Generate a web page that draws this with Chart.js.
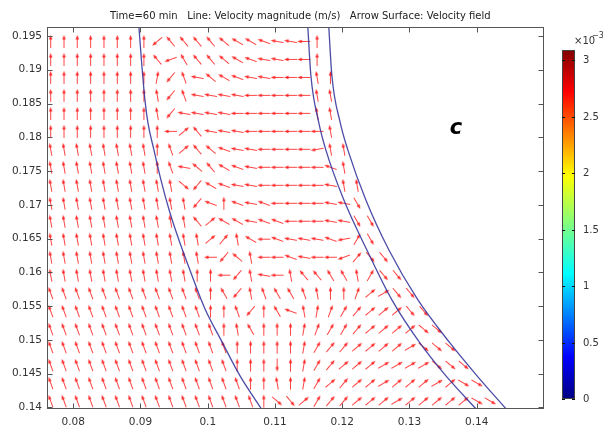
<!DOCTYPE html>
<html>
<head>
<meta charset="utf-8">
<script src="https://cdn.jsdelivr.net/npm/chart.js@4/dist/chart.umd.min.js"></script>
<style>
  html, body { margin: 0; padding: 0; background: #fff; }
  #wrap { width: 603px; height: 430px; }
</style>
</head>
<body>
<div id="wrap"><canvas id="chart" width="603" height="430"></canvas></div>
<script>
// axis ranges and ticks
const xMin = 0.0761, xMax = 0.150;
const yMin = 0.13976, yMax = 0.19633;
const xTicks = [0.08, 0.09, 0.10, 0.11, 0.12, 0.13, 0.14];
const xTickLabels = ['0.08', '0.09', '0.1', '0.11', '0.12', '0.13', '0.14'];
const yTicks = [0.14, 0.145, 0.15, 0.155, 0.16, 0.165, 0.17, 0.175, 0.18, 0.185, 0.19, 0.195];
const yTickLabels = ['0.14', '0.145', '0.15', '0.155', '0.16', '0.165', '0.17', '0.175', '0.18', '0.185', '0.19', '0.195'];
const colorTicks = [0, 0.5, 1, 1.5, 2, 2.5, 3];
const colorTickLabels = ['0', '0.5', '1', '1.5', '2', '2.5', '3'];
const colorMax = 3.09;

// arrow grid (m)
const colX = [0.07665, 0.07863, 0.08060, 0.08259, 0.08457, 0.08655, 0.08854, 0.09051, 0.09249, 0.09448,
  0.09646, 0.09843, 0.10042, 0.10240, 0.10438, 0.10637, 0.10834, 0.11032, 0.11231, 0.11429,
  0.11626, 0.11825, 0.12023, 0.12221, 0.12420, 0.12617, 0.12815, 0.13014, 0.13212, 0.13410,
  0.13609, 0.13806, 0.14004, 0.14203, 0.14401, 0.14598, 0.14797];
const rowY = [0.19419, 0.19152, 0.18886, 0.18620, 0.18353, 0.18087, 0.17821, 0.17555, 0.17288, 0.17022,
  0.16756, 0.16490, 0.16223, 0.15957, 0.15691, 0.15425, 0.15158, 0.14892, 0.14626, 0.14359, 0.14093];

// arrow direction per grid cell, one char per column:
// index in codeChars x 10 deg (0 = right, 9 = up, i = left, r = down), '.' = no arrow
const codeChars = '0123456789abcdefghijklmnopqrstuvwxyz';
const arrowRows = [
  '99999999mddddeffghhi9................',
  '99999999dkcddefghhii9................',
  '999999998nbhefghhiiia9...............',
  '99999999anbhhhhiiiiiaa...............',
  '99999999anhhhhiiiiiiaa...............',
  '999999999i4dhhhiiiiiia...............',
  'aaaaaaaa9b4deghhiiiijaa..............',
  'aaaaaaaa9bhedfghiiiiiga..............',
  'aaaaaaaaaawnfghhiiiiihaa.............',
  'aaaaaaaaaaang9ghgiiiihhu.............',
  'aaaaaaaaaaad4ffhggiiihhuu............',
  'aaaaaaaaaaaa45afighhhgj6u............',
  'aaaaaaaaaaaaineaiighiik5vv...........',
  'aaaaaaaaaaa99inahiaddcca6vv..........',
  'bbbbbbbbbbbb9cnabccba99743vv.........',
  'bbbbbbbbbbbb99bn9cga8765444vv........',
  'bbbbbbbbbbbbb9ac999876654444ww.......',
  'bbbbbbbbbbbbbb99999865544443www......',
  'bbbbbbbbbbbbbb999r98654443333www.....',
  'bbbbbbbbbbbbbbb99a9864544344434xx....',
  'bbbbbbbbbbbbbbbb9wv4655444344444xx...'
];

// boundary lines
const leftLineX = [0.08977, 0.09014, 0.09066, 0.09111, 0.09200, 0.09304, 0.09438, 0.09586, 0.09750, 0.09958, 0.10195, 0.10478, 0.10805];
const leftLineY = [0.19633, 0.19145, 0.18553, 0.18213, 0.17814, 0.17370, 0.16882, 0.16438, 0.15994, 0.15461, 0.15003, 0.14470, 0.13967];
const innerLineX = [0.11488, 0.11533, 0.11652, 0.11756, 0.12023, 0.12365, 0.12736, 0.13152, 0.13539, 0.13999];
const innerLineY = [0.19633, 0.18923, 0.18213, 0.17814, 0.17074, 0.16334, 0.15595, 0.14958, 0.14470, 0.13967];
const outerLineX = [0.11800, 0.11845, 0.11971, 0.12083, 0.12350, 0.12692, 0.13123, 0.13598, 0.14014, 0.14445];
const outerLineY = [0.19633, 0.18923, 0.18213, 0.17814, 0.17074, 0.16334, 0.15595, 0.14958, 0.14456, 0.13967];

const arrowPoints = [];
const arrowAngles = [];
rowY.forEach((y, r) => {
  colX.forEach((x, c) => {
    const ch = arrowRows[r][c];
    if (!ch || ch === '.') return;
    arrowPoints.push({ x: x, y: y });
    arrowAngles.push(codeChars.indexOf(ch) * 10);
  });
});

function makeArrow(len) {
  const cv = document.createElement('canvas');
  cv.width = len + 4;
  cv.height = len + 4;
  const g = cv.getContext('2d');
  const cx = cv.width / 2, cy = cv.height / 2;
  g.strokeStyle = 'rgba(255,20,20,0.8)';
  g.fillStyle = 'rgba(255,20,20,0.9)';
  g.lineWidth = 1;
  g.beginPath();
  g.moveTo(cx - len / 2, cy);
  g.lineTo(cx + len / 2 - 3, cy);
  g.stroke();
  g.beginPath();
  g.moveTo(cx + len / 2, cy);
  g.lineTo(cx + len / 2 - 4.5, cy - 1.8);
  g.lineTo(cx + len / 2 - 4.5, cy + 1.8);
  g.closePath();
  g.fill();
  return cv;
}
const arrowImg = makeArrow(13);

const toPoints = (xs, ys) => xs.map((x, i) => ({ x: x, y: ys[i] }));

function lineSet(xs, ys) {
  return {
    data: toPoints(xs, ys),
    showLine: true,
    borderColor: 'rgba(45,45,150,0.85)',
    borderWidth: 1.3,
    pointRadius: 0,
    cubicInterpolationMode: 'monotone',
    order: 1
  };
}

// frame, inward ticks, title, colour legend, label
const decor = {
  id: 'decor',
  afterDraw(chart) {
    const { ctx, chartArea: a, scales: { x, y } } = chart;
    ctx.save();
    ctx.strokeStyle = '#555';
    ctx.lineWidth = 1;
    const L = Math.round(a.left) + 0.5, R = Math.round(a.right) - 0.5;
    const T = Math.round(a.top) + 0.5, B = Math.round(a.bottom) - 0.5;
    ctx.strokeRect(L, T, R - L, B - T);
    ctx.beginPath();
    xTicks.forEach(v => {
      const px = Math.round(x.getPixelForValue(v)) + 0.5;
      ctx.moveTo(px, B); ctx.lineTo(px, B - 5);
      ctx.moveTo(px, T); ctx.lineTo(px, T + 5);
    });
    yTicks.forEach(v => {
      const py = Math.round(y.getPixelForValue(v)) + 0.5;
      ctx.moveTo(L, py); ctx.lineTo(L + 5, py);
      ctx.moveTo(R, py); ctx.lineTo(R - 5, py);
    });
    ctx.stroke();

    // title
    ctx.fillStyle = '#222';
    ctx.font = '10px "DejaVu Sans"';
    ctx.textAlign = 'left';
    ctx.textBaseline = 'alphabetic';
    ctx.fillText('Time=60 min   Line: Velocity magnitude (m/s)   Arrow Surface: Velocity field', 110, 18.5);

    // colour legend
    const bx = 562, bw = 13, bTop = 50, bBot = 399;
    const grad = ctx.createLinearGradient(0, bBot, 0, bTop);
    grad.addColorStop(0.00, '#000080');
    grad.addColorStop(0.12, '#0000ff');
    grad.addColorStop(0.36, '#00ffff');
    grad.addColorStop(0.50, '#80ff80');
    grad.addColorStop(0.64, '#ffff00');
    grad.addColorStop(0.88, '#ff0000');
    grad.addColorStop(1.00, '#800000');
    ctx.fillStyle = grad;
    ctx.fillRect(bx, bTop, bw, bBot - bTop);
    ctx.strokeStyle = '#444';
    ctx.strokeRect(bx + 0.5, bTop + 0.5, bw - 1, bBot - bTop - 1);
    ctx.fillStyle = '#333';
    ctx.font = '10px "DejaVu Sans"';
    ctx.textBaseline = 'middle';
    ctx.beginPath();
    colorTicks.forEach((v, i) => {
      const py = Math.round(bBot - (v / colorMax) * (bBot - bTop)) + 0.5;
      ctx.moveTo(bx, py); ctx.lineTo(bx + 3, py);
      ctx.moveTo(bx + bw, py); ctx.lineTo(bx + bw - 3, py);
      ctx.fillText(colorTickLabels[i], 583, py);
    });
    ctx.strokeStyle = '#111';
    ctx.stroke();
    ctx.textBaseline = 'alphabetic';
    ctx.fillText('\u00d710', 574, 44);
    ctx.font = '8px "DejaVu Sans"';
    ctx.fillText('\u22123', 592, 38);

    // region label
    ctx.fillStyle = '#000';
    ctx.font = 'italic bold 21px "DejaVu Sans"';
    ctx.textAlign = 'center';
    ctx.fillText('c', 456, 134);
    ctx.restore();
  }
};

new Chart(document.getElementById('chart').getContext('2d'), {
  type: 'scatter',
  data: {
    datasets: [
      {
        data: arrowPoints,
        pointStyle: arrowImg,
        pointRotation: ctx => -arrowAngles[ctx.dataIndex],
        pointRadius: 4,
        pointHoverRadius: 4,
        showLine: false,
        order: 2
      },
      lineSet(leftLineX, leftLineY),
      lineSet(innerLineX, innerLineY),
      lineSet(outerLineX, outerLineY)
    ]
  },
  options: {
    responsive: false,
    animation: false,
    devicePixelRatio: 1,
    events: [],
    layout: { padding: { left: 0, right: 59, top: 27, bottom: 0 } },
    plugins: { legend: { display: false }, tooltip: { enabled: false }, title: { display: false } },
    scales: {
      x: {
        type: 'linear',
        min: xMin,
        max: xMax,
        afterBuildTicks: s => { s.ticks = xTicks.map(v => ({ value: v })); },
        afterFit: s => { s.height = 21; },
        ticks: {
          callback: (v, i) => xTickLabels[i],
          color: '#333',
          font: { family: 'DejaVu Sans', size: 10.5 },
          padding: 7,
          maxRotation: 0,
          autoSkip: false
        },
        grid: { drawOnChartArea: false, drawTicks: false },
        border: { display: false }
      },
      y: {
        type: 'linear',
        min: yMin,
        max: yMax,
        afterBuildTicks: s => { s.ticks = yTicks.map(v => ({ value: v })); },
        afterFit: s => { s.width = 47; },
        ticks: {
          callback: (v, i) => yTickLabels[i],
          color: '#333',
          font: { family: 'DejaVu Sans', size: 10.5 },
          padding: 5,
          autoSkip: false
        },
        grid: { drawOnChartArea: false, drawTicks: false },
        border: { display: false }
      }
    }
  },
  plugins: [decor]
});
</script>
</body>
</html>
